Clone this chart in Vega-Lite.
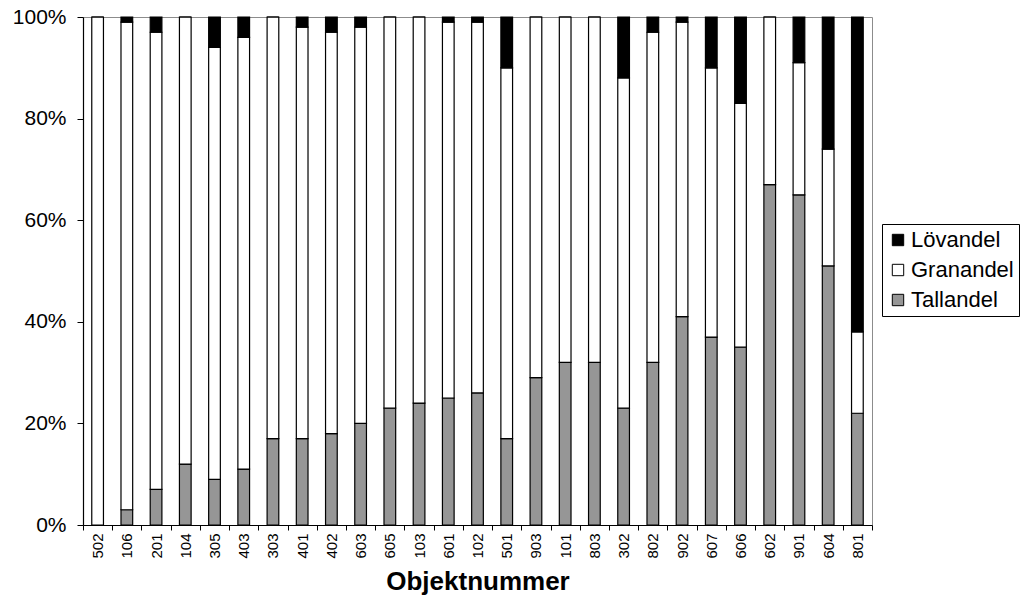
{
  "$schema": "https://vega.github.io/schema/vega-lite/v6.json",
  "autosize": {"type": "none"},
  "padding": {"left": 83, "top": 17, "right": 151, "bottom": 72},
  "width": 789,
  "height": 508,
  "background": "white",
  "config": {
    "font": "Liberation Sans",
    "view": {"stroke": "#8c8c8c", "strokeWidth": 1},
    "axis": {
      "domainColor": "black",
      "tickColor": "black",
      "labelColor": "black",
      "titleColor": "black",
      "grid": false,
      "labelFont": "Liberation Sans",
      "titleFont": "Liberation Sans"
    }
  },
  "data": {
    "values": [
      {"Objekt": "502", "Tallandel": 0, "Granandel": 100, "Lövandel": 0},
      {"Objekt": "106", "Tallandel": 3, "Granandel": 96, "Lövandel": 1},
      {"Objekt": "201", "Tallandel": 7, "Granandel": 90, "Lövandel": 3},
      {"Objekt": "104", "Tallandel": 12, "Granandel": 88, "Lövandel": 0},
      {"Objekt": "305", "Tallandel": 9, "Granandel": 85, "Lövandel": 6},
      {"Objekt": "403", "Tallandel": 11, "Granandel": 85, "Lövandel": 4},
      {"Objekt": "303", "Tallandel": 17, "Granandel": 83, "Lövandel": 0},
      {"Objekt": "401", "Tallandel": 17, "Granandel": 81, "Lövandel": 2},
      {"Objekt": "402", "Tallandel": 18, "Granandel": 79, "Lövandel": 3},
      {"Objekt": "603", "Tallandel": 20, "Granandel": 78, "Lövandel": 2},
      {"Objekt": "605", "Tallandel": 23, "Granandel": 77, "Lövandel": 0},
      {"Objekt": "103", "Tallandel": 24, "Granandel": 76, "Lövandel": 0},
      {"Objekt": "601", "Tallandel": 25, "Granandel": 74, "Lövandel": 1},
      {"Objekt": "102", "Tallandel": 26, "Granandel": 73, "Lövandel": 1},
      {"Objekt": "501", "Tallandel": 17, "Granandel": 73, "Lövandel": 10},
      {"Objekt": "903", "Tallandel": 29, "Granandel": 71, "Lövandel": 0},
      {"Objekt": "101", "Tallandel": 32, "Granandel": 68, "Lövandel": 0},
      {"Objekt": "803", "Tallandel": 32, "Granandel": 68, "Lövandel": 0},
      {"Objekt": "302", "Tallandel": 23, "Granandel": 65, "Lövandel": 12},
      {"Objekt": "802", "Tallandel": 32, "Granandel": 65, "Lövandel": 3},
      {"Objekt": "902", "Tallandel": 41, "Granandel": 58, "Lövandel": 1},
      {"Objekt": "607", "Tallandel": 37, "Granandel": 53, "Lövandel": 10},
      {"Objekt": "606", "Tallandel": 35, "Granandel": 48, "Lövandel": 17},
      {"Objekt": "602", "Tallandel": 67, "Granandel": 33, "Lövandel": 0},
      {"Objekt": "901", "Tallandel": 65, "Granandel": 26, "Lövandel": 9},
      {"Objekt": "604", "Tallandel": 51, "Granandel": 23, "Lövandel": 26},
      {"Objekt": "801", "Tallandel": 22, "Granandel": 16, "Lövandel": 62}
    ]
  },
  "transform": [
    {"fold": ["Tallandel", "Granandel", "Lövandel"], "as": ["Andel", "Procent"]},
    {"calculate": "indexof(['Tallandel', 'Granandel', 'Lövandel'], datum.Andel)", "as": "Stapelordning"}
  ],
  "mark": {"type": "bar", "stroke": "black", "strokeWidth": 1.2, "width": {"band": 0.4}},
  "encoding": {
    "x": {
      "field": "Objekt",
      "type": "nominal",
      "sort": null,
      "scale": {"paddingInner": 0, "paddingOuter": 0},
      "axis": {
        "title": "Objektnummer",
        "titleFontSize": 26,
        "titleFontWeight": "bold",
        "titlePadding": 10,
        "labelAngle": -90,
        "labelFontSize": 15,
        "labelPadding": 3,
        "tickBand": "extent",
        "tickSize": 5,
        "domainWidth": 1.2
      }
    },
    "y": {
      "field": "Procent",
      "type": "quantitative",
      "stack": "zero",
      "scale": {"domain": [0, 100], "nice": false},
      "axis": {
        "title": null,
        "values": [0, 20, 40, 60, 80, 100],
        "labelExpr": "datum.value + '%'",
        "labelFontSize": 21,
        "labelPadding": 11,
        "tickSize": 6,
        "domainWidth": 1.2
      }
    },
    "color": {
      "field": "Andel",
      "type": "nominal",
      "scale": {
        "domain": ["Lövandel", "Granandel", "Tallandel"],
        "range": ["#000000", "#ffffff", "#969696"]
      },
      "legend": {
        "title": null,
        "orient": "none",
        "legendX": 799,
        "legendY": 207,
        "symbolType": "square",
        "symbolSize": 130,
        "symbolStrokeColor": "black",
        "symbolStrokeWidth": 1,
        "labelFontSize": 22,
        "labelColor": "black",
        "labelOffset": 2,
        "rowPadding": 8,
        "padding": 5,
        "strokeColor": "black",
        "fillColor": "white"
      }
    },
    "order": {"field": "Stapelordning", "type": "quantitative"}
  }
}
